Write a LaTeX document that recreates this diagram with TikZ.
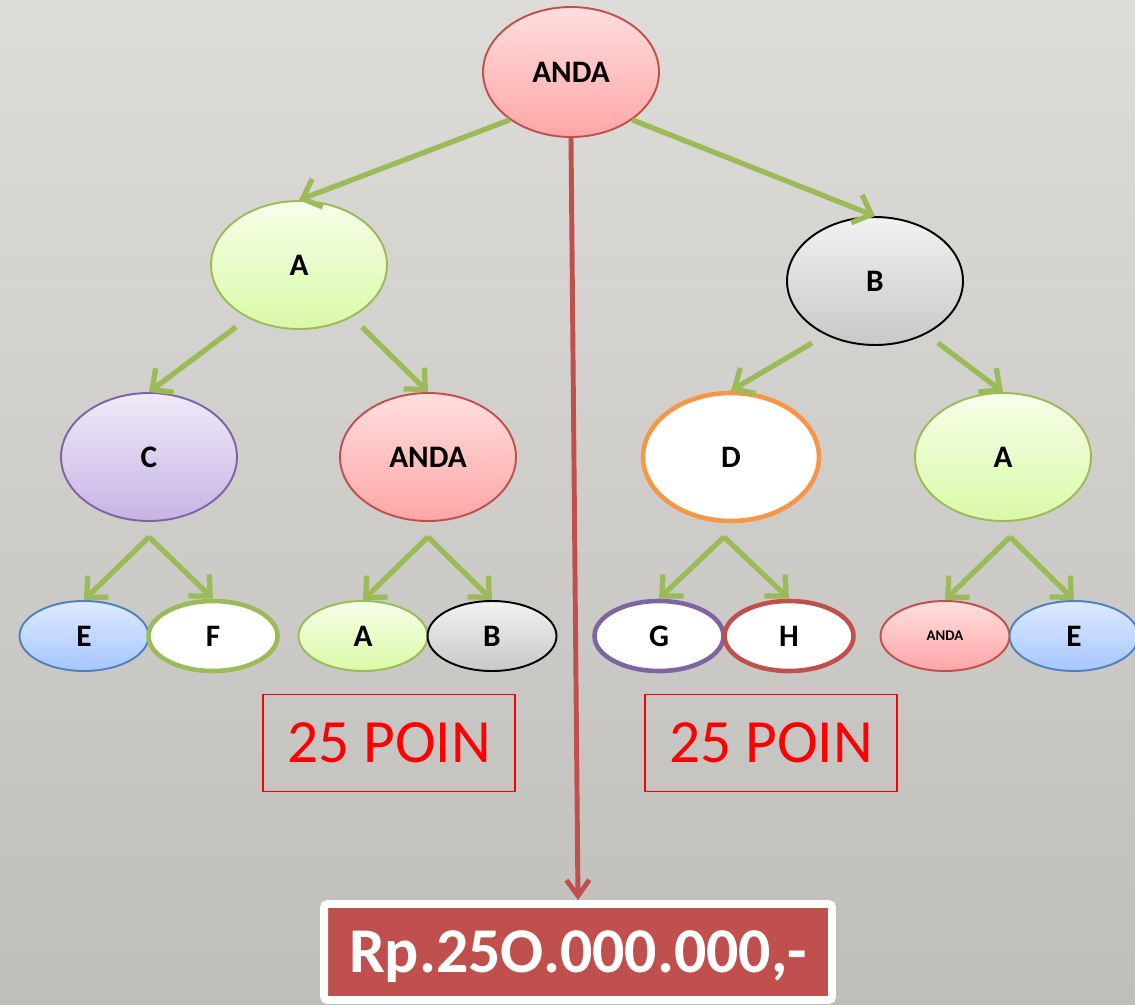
\documentclass[tikz,border=0pt]{standalone}
\usepackage{fontspec}
\setmainfont{Carlito}
\usetikzlibrary{positioning}
\usetikzlibrary{arrows.meta}
\usetikzlibrary{shapes.geometric}

\definecolor{bgtop}{RGB}{222,220,216}
\definecolor{bgbot}{RGB}{192,190,187}
\definecolor{andared}{RGB}{192,80,77}
\definecolor{leafgreen}{RGB}{155,187,89}
\definecolor{ppurple}{RGB}{128,100,162}
\definecolor{bblue}{RGB}{79,129,189}
\definecolor{oorange}{RGB}{247,150,70}

\begin{document}
\begin{tikzpicture}[x=0.02cm,y=-0.02cm,
    big/.style={ellipse,minimum width=3.52cm,minimum height=2.56cm,inner sep=0pt,font=\fontsize{17.8}{20}\selectfont\bfseries},
    small/.style={ellipse,minimum width=2.58cm,minimum height=1.40cm,inner sep=0pt,font=\fontsize{17.8}{20}\selectfont\bfseries},
    pinkfill/.style={top color={rgb,255:red,255;green,222;blue,222},bottom color={rgb,255:red,255;green,166;blue,166},draw=andared,line width=1.1pt},
    limefill/.style={top color={rgb,255:red,246;green,255;blue,234},bottom color={rgb,255:red,218;green,249;blue,166},draw=leafgreen,line width=1.1pt},
    greyfill/.style={top color={rgb,255:red,242;green,242;blue,242},bottom color={rgb,255:red,200;green,200;blue,200},draw=black,line width=1.1pt},
    lilacfill/.style={top color={rgb,255:red,240;green,234;blue,248},bottom color={rgb,255:red,198;green,180;blue,228},draw=ppurple,line width=1.1pt},
    skyfill/.style={top color={rgb,255:red,222;green,234;blue,255},bottom color={rgb,255:red,166;green,198;blue,255},draw=bblue,line width=1.1pt},
    ring/.style={fill=white,line width=2.6pt},
    link/.style={draw=leafgreen,line width=3pt,-{Straight Barb[length=9pt,width=17pt]}},
    poin/.style={draw=red,line width=0.8pt,minimum width=5.04cm,minimum height=1.94cm,text=red,font=\fontsize{35}{40}\selectfont}]

    \useasboundingbox (0,0) rectangle (1135,1004);
    \shade[top color=bgtop,bottom color=bgbot] (0,0) rectangle (1135,1004);   %background

    \node[big,pinkfill,minimum height=2.6cm] (anda) at (571,72) {ANDA};   %root
    \node[big,limefill] (a1) at (299,265) {A};
    \node[big,greyfill] (b1) at (875,281) {B};
    \node[big,lilacfill] (c) at (149,457) {C};
    \node[big,pinkfill] (anda2) at (428,457) {ANDA};
    \node[big,ring,draw=oorange] (d) at (731,457) {D};
    \node[big,limefill] (a2) at (1003,457) {A};

    \node[small,skyfill] (e1) at (84,636) {E};   %leaves
    \node[small,ring,draw=leafgreen] (f) at (213,636) {F};
    \node[small,limefill] (a3) at (363,636) {A};
    \node[small,greyfill] (b2) at (492,636) {B};
    \node[small,ring,draw=ppurple] (g) at (659,636) {G};
    \node[small,ring,draw=andared] (h) at (789,636) {H};
    \node[small,pinkfill,font=\fontsize{8.4}{10}\selectfont\bfseries] (anda3) at (945,636) {ANDA};
    \node[small,skyfill] (e2) at (1074,636) {E};

    \node[poin] (p1) at (389,743) {25 POIN};
    \node[poin] (p2) at (771,743) {25 POIN};
    \node[fill=andared,draw=white,line width=4.5pt,rounded corners=2pt,minimum width=10.16cm,minimum height=1.92cm,text=white,text depth=0pt,font=\fontsize{36.3}{40}\selectfont\bfseries] (prize) at (578,952) {Rp.25O.000.000,-};   %prize

    \draw[link] (anda.218) -- (a1.north);
    \draw[link] (anda.322) -- (b1.north);
    \draw[link] ([shift={(-63,62)}]a1.center) -- (c.north);
    \draw[link] ([shift={(63,62)}]a1.center) -- (anda2.north);
    \draw[link] ([shift={(-63,62)}]b1.center) -- (d.north);
    \draw[link] ([shift={(63,62)}]b1.center) -- (a2.north);
    \draw[link] ([shift={(0,80)}]c.center) -- (e1.north);
    \draw[link] ([shift={(0,80)}]c.center) -- (f.north);
    \draw[link] ([shift={(0,80)}]anda2.center) -- (a3.north);
    \draw[link] ([shift={(0,80)}]anda2.center) -- (b2.north);
    \draw[link] ([shift={(-7,80)}]d.center) -- (g.north);
    \draw[link] ([shift={(-7,80)}]d.center) -- (h.north);
    \draw[link] ([shift={(7,80)}]a2.center) -- (anda3.north);
    \draw[link] ([shift={(7,80)}]a2.center) -- (e2.north);
    \draw[andared,line width=2.8pt,-{Straight Barb[length=9pt,width=13pt]}] (anda.south) -- (prize.north);   %straight down
\end{tikzpicture}
\end{document}
